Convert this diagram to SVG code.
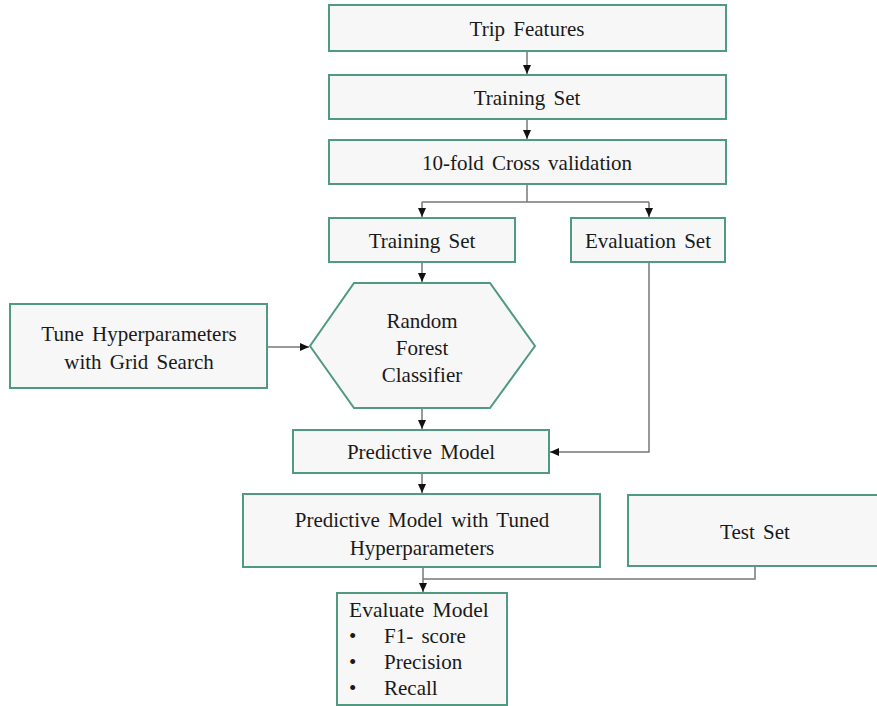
<svg xmlns="http://www.w3.org/2000/svg" width="877" height="706" viewBox="0 0 877 706">
<style>
.box{fill:#f7f7f7;stroke:#4f9a80;stroke-width:2}
.t{font-family:"Liberation Serif","Times New Roman",serif;font-size:21px;fill:#1a1a1a;word-spacing:3px}
.c{text-anchor:middle}
.ln{fill:none;stroke:#777;stroke-width:1.5}
</style>
<defs>
<marker id="ah" markerWidth="10" markerHeight="10" refX="9" refY="5" orient="auto" markerUnits="userSpaceOnUse">
<path d="M0,1 L9,5 L0,9 Z" fill="#111"/>
</marker>
</defs>
<rect width="877" height="706" fill="#fff"/>
<g id="connectors">
<path class="ln" d="M527,51 V74" marker-end="url(#ah)"/>
<path class="ln" d="M527,119 V139" marker-end="url(#ah)"/>
<path class="ln" d="M527,184 V202"/>
<path class="ln" d="M422,202 H649"/>
<path class="ln" d="M422,202 V217" marker-end="url(#ah)"/>
<path class="ln" d="M649,202 V217" marker-end="url(#ah)"/>
<path class="ln" d="M422,262 V282" marker-end="url(#ah)"/>
<path class="ln" d="M267,347 H309" marker-end="url(#ah)"/>
<path class="ln" d="M422,408 V429" marker-end="url(#ah)"/>
<path class="ln" d="M649,262 V452 H550" marker-end="url(#ah)"/>
<path class="ln" d="M422,473 V493" marker-end="url(#ah)"/>
<path class="ln" d="M423,567 V592" marker-end="url(#ah)"/>
<path class="ln" d="M755,566 V579 H423"/>
</g>
<g id="trip-features">
<rect class="box" x="329" y="5" width="397" height="46"/>
<text class="t c" x="527" y="36">Trip Features</text>
</g>
<g id="training-set">
<rect class="box" x="329" y="75" width="397" height="44"/>
<text class="t c" x="527" y="105">Training Set</text>
</g>
<g id="cross-validation">
<rect class="box" x="329" y="140" width="397" height="44"/>
<text class="t c" x="527" y="170">10-fold Cross validation</text>
</g>
<g id="training-set-2">
<rect class="box" x="329" y="218" width="186" height="44"/>
<text class="t c" x="422" y="248">Training Set</text>
</g>
<g id="evaluation-set">
<rect class="box" x="571" y="218" width="154" height="44"/>
<text class="t c" x="648" y="248">Evaluation Set</text>
</g>
<g id="random-forest">
<polygon class="box" points="354,283 490,283 535,346 490,408 354,408 310,346"/>
<text class="t c" x="422" y="328">Random</text>
<text class="t c" x="422" y="355">Forest</text>
<text class="t c" x="422" y="382">Classifier</text>
</g>
<g id="tune-hyperparameters">
<rect class="box" x="10" y="304" width="257" height="84"/>
<text class="t c" x="139" y="341">Tune Hyperparameters</text>
<text class="t c" x="139" y="369">with Grid Search</text>
</g>
<g id="predictive-model">
<rect class="box" x="293" y="430" width="256" height="43"/>
<text class="t c" x="421" y="459">Predictive Model</text>
</g>
<g id="tuned-model">
<rect class="box" x="243" y="494" width="357" height="73"/>
<text class="t c" x="422" y="527">Predictive Model with Tuned</text>
<text class="t c" x="422" y="555">Hyperparameters</text>
</g>
<g id="test-set">
<rect class="box" x="628" y="495" width="262" height="71"/>
<text class="t c" x="755" y="539">Test Set</text>
</g>
<g id="evaluate-model">
<rect class="box" x="337" y="593" width="170" height="112"/>
<text class="t" x="349" y="617" style="font-size:21.5px">Evaluate Model</text>
<text class="t" x="349" y="643">•</text>
<text class="t" x="384" y="643">F1- score</text>
<text class="t" x="349" y="669">•</text>
<text class="t" x="384" y="669">Precision</text>
<text class="t" x="349" y="695">•</text>
<text class="t" x="384" y="695">Recall</text>
</g>
</svg>
